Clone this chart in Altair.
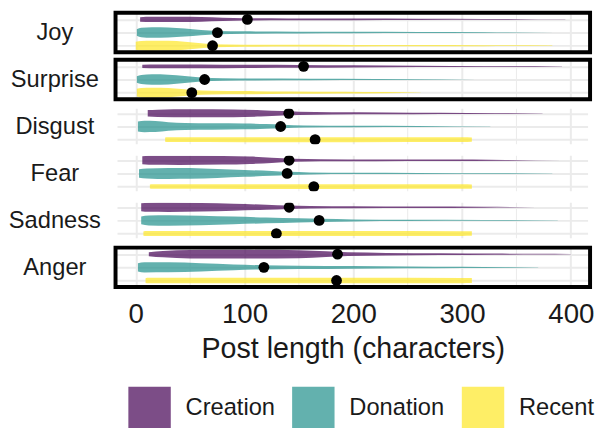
import altair as alt
import pandas as pd

FONT = "Liberation Sans"
TXT = "#1A1A1A"
GRID = "#EBEBEB"

emotions = ["Joy", "Surprise", "Disgust", "Fear", "Sadness", "Anger"]
highlighted = ["Joy", "Surprise", "Anger"]
groups = ["Creation", "Donation", "Recent"]
group_colors = ["#440154", "#21908C", "#FDE725"]
x_ticks = [0, 100, 200, 300, 400]
x_minor = [50, 150, 250, 350]
x_domain = [-18.6, 417.7]
row_domain = [0.5, 3.5]

# median post length per emotion (same order as emotions)
median_creation = [102.6, 154.3, 140.7, 141.0, 141.0, 185.5]
median_donation = [75.1, 63.3, 133.2, 139.2, 168.6, 117.8]
median_recent = [70.6, 51.5, 164.9, 163.7, 129.3, 184.6]

# violin outlines: post length -> half width (row units)
joy_profiles = {
    "Creation": ([4, 15, 40, 60, 80, 100, 140, 200, 260, 320, 370, 395],
                 [0.17, 0.2, 0.2, 0.18, 0.13, 0.09, 0.07, 0.06, 0.045, 0.03, 0.015, 0.005]),
    "Donation": ([1, 5, 15, 30, 45, 60, 75, 100, 150, 200, 260, 320, 385],
                 [0.25, 0.36, 0.4, 0.38, 0.3, 0.2, 0.12, 0.09, 0.07, 0.055, 0.04, 0.025, 0.005]),
    "Recent": ([0, 5, 15, 30, 45, 60, 70, 100, 150, 200, 260, 320, 383],
               [0.3, 0.36, 0.38, 0.37, 0.3, 0.19, 0.12, 0.08, 0.065, 0.055, 0.045, 0.035, 0.02]),
}
surprise_profiles = {
    "Creation": ([6, 20, 60, 100, 150, 200, 260, 320, 392],
                 [0.13, 0.15, 0.14, 0.12, 0.1, 0.08, 0.055, 0.035, 0.008]),
    "Donation": ([1, 5, 15, 30, 45, 60, 80, 110, 160, 220, 280, 313],
                 [0.25, 0.35, 0.4, 0.37, 0.27, 0.16, 0.09, 0.07, 0.055, 0.04, 0.025, 0.008]),
    "Recent": ([1, 5, 15, 30, 42, 52, 70, 100, 140, 190, 230, 262],
               [0.3, 0.36, 0.38, 0.35, 0.28, 0.2, 0.14, 0.12, 0.09, 0.07, 0.045, 0.015]),
}
disgust_profiles = {
    "Creation": ([11, 20, 50, 90, 115, 135, 150, 180, 230, 280, 330, 374],
                 [0.25, 0.28, 0.3, 0.29, 0.24, 0.17, 0.12, 0.085, 0.07, 0.05, 0.03, 0.008]),
    "Donation": ([2, 8, 18, 30, 45, 70, 100, 120, 135, 155, 200, 260, 326],
                 [0.38, 0.43, 0.42, 0.33, 0.26, 0.24, 0.22, 0.18, 0.13, 0.08, 0.055, 0.04, 0.01]),
    "Recent": ([27, 30, 100, 200, 300, 309],
               [0.16, 0.18, 0.19, 0.19, 0.18, 0.16]),
}
fear_profiles = {
    "Creation": ([6, 12, 40, 80, 105, 125, 145, 170, 220, 280, 340, 392],
                 [0.3, 0.34, 0.35, 0.33, 0.28, 0.2, 0.12, 0.08, 0.065, 0.05, 0.03, 0.006]),
    "Donation": ([3, 10, 30, 50, 75, 100, 125, 140, 160, 200, 260, 330, 383],
                 [0.32, 0.38, 0.42, 0.41, 0.34, 0.26, 0.18, 0.12, 0.075, 0.05, 0.04, 0.03, 0.01]),
    "Recent": ([13, 16, 100, 200, 300, 309],
               [0.15, 0.17, 0.18, 0.18, 0.17, 0.16]),
}
sadness_profiles = {
    "Creation": ([5, 12, 30, 60, 90, 120, 140, 160, 200, 260, 320, 368],
                 [0.3, 0.35, 0.36, 0.32, 0.26, 0.19, 0.13, 0.09, 0.07, 0.05, 0.03, 0.006]),
    "Donation": ([5, 12, 30, 60, 90, 120, 150, 170, 200, 250, 320, 388],
                 [0.3, 0.38, 0.4, 0.36, 0.29, 0.22, 0.16, 0.12, 0.075, 0.05, 0.035, 0.01]),
    "Recent": ([7, 10, 100, 200, 300, 309],
               [0.16, 0.19, 0.19, 0.19, 0.18, 0.17]),
}
anger_profiles = {
    "Creation": ([12, 25, 50, 100, 150, 175, 195, 230, 280, 330, 370, 400],
                 [0.15, 0.24, 0.32, 0.33, 0.3, 0.22, 0.14, 0.1, 0.07, 0.045, 0.025, 0.006]),
    "Donation": ([2, 8, 30, 60, 90, 115, 150, 200, 250, 300, 340, 370],
                 [0.32, 0.39, 0.38, 0.31, 0.22, 0.16, 0.13, 0.1, 0.07, 0.045, 0.025, 0.006]),
    "Recent": ([9, 12, 100, 200, 300, 309],
               [0.18, 0.21, 0.21, 0.21, 0.2, 0.19]),
}
profiles = [joy_profiles, surprise_profiles, disgust_profiles,
            fear_profiles, sadness_profiles, anger_profiles]

W, H = 481, 40
color_scale = alt.Scale(domain=groups, range=group_colors)
x_scale = alt.Scale(domain=x_domain, nice=False, zero=False)
y_scale = alt.Scale(domain=row_domain, reverse=True, nice=False, zero=False)

legend = alt.Legend(title=None, orient="none", direction="horizontal",
                    legendX=13, legendY=379, symbolType="square",
                    symbolSize=1849, symbolStrokeWidth=0, symbolOpacity=0.7,
                    labelFontSize=24, labelColor=TXT, labelOffset=15,
                    columnPadding=17, padding=0, labelFont=FONT)

panels = []
for i, emo in enumerate(emotions):
    last = i == len(emotions) - 1
    rows = []
    for j, g in enumerate(groups):
        xs, ws = profiles[i][g]
        for v, w in zip(xs, ws):
            rows.append({"group": g, "v": v, "top": j + 1 - w, "bot": j + 1 + w})
    vdf = pd.DataFrame(rows)
    mdf = pd.DataFrame({
        "group": groups,
        "v": [median_creation[i], median_donation[i], median_recent[i]],
        "c": [1, 2, 3],
    })
    minor_df = pd.DataFrame({"v": x_minor})

    ax_kw = dict(values=x_ticks, grid=True, gridColor=GRID, gridWidth=2,
                 ticks=False, tickSize=0, domain=False, labels=last)
    if last:
        ax_kw.update(labelFontSize=28, labelColor=TXT, labelPadding=14,
                     title="Post length (characters)", titleFontSize=29,
                     titleFontWeight="normal", titleColor=TXT, titleY=71,
                     titleBaseline="alphabetic")
    else:
        ax_kw.update(title=None)
    x_axis = alt.Axis(**ax_kw)
    y_axis = alt.Axis(values=[1, 2, 3], grid=True, gridColor=GRID, gridWidth=2,
                      ticks=False, domain=False, labels=False, title=emo,
                      titleAngle=0, titleAlign="center", titleBaseline="middle",
                      titleX=-62, titleY=H / 2, titleFontSize=24,
                      titleFontWeight="normal", titleColor=TXT)

    minor = alt.Chart(minor_df).mark_rule(color=GRID, strokeWidth=1).encode(
        x=alt.X("v:Q", scale=x_scale, axis=x_axis)
    )
    violins = alt.Chart(vdf).mark_area(opacity=0.7, interpolate="monotone").encode(
        x=alt.X("v:Q", scale=x_scale, axis=x_axis),
        y=alt.Y("top:Q", scale=y_scale, axis=y_axis),
        y2="bot:Q",
        color=alt.Color("group:N", scale=color_scale, legend=legend),
        detail="group:N",
    )
    dots = alt.Chart(mdf).mark_circle(size=120, color="black", opacity=1).encode(
        x=alt.X("v:Q", scale=x_scale, axis=x_axis),
        y=alt.Y("c:Q", scale=y_scale, axis=y_axis),
    )
    # panel border: black for highlighted emotions, white (invisible) otherwise
    fdf = pd.DataFrame({"x0": [x_domain[0]], "x1": [x_domain[1]],
                        "y0": [row_domain[0]], "y1": [row_domain[1]]})
    frame_color = "black" if emo in highlighted else "white"
    frame = alt.Chart(fdf).mark_rect(filled=False, stroke=frame_color, strokeWidth=4).encode(
        x=alt.X("x0:Q", scale=x_scale, axis=x_axis), x2="x1:Q",
        y=alt.Y("y0:Q", scale=y_scale, axis=y_axis), y2="y1:Q",
    )
    panels.append(alt.layer(minor, violins, dots, frame).properties(width=W, height=H))

chart = alt.vconcat(*panels, spacing=3.6).properties(
    padding={"left": 0, "right": 0, "top": 0, "bottom": 0}
).configure_view(stroke=None).configure_axis(
    labelFont=FONT, titleFont=FONT
).configure_legend(labelFont=FONT)

chart.save("out.html", embed_options={"renderer": "svg", "actions": False})
